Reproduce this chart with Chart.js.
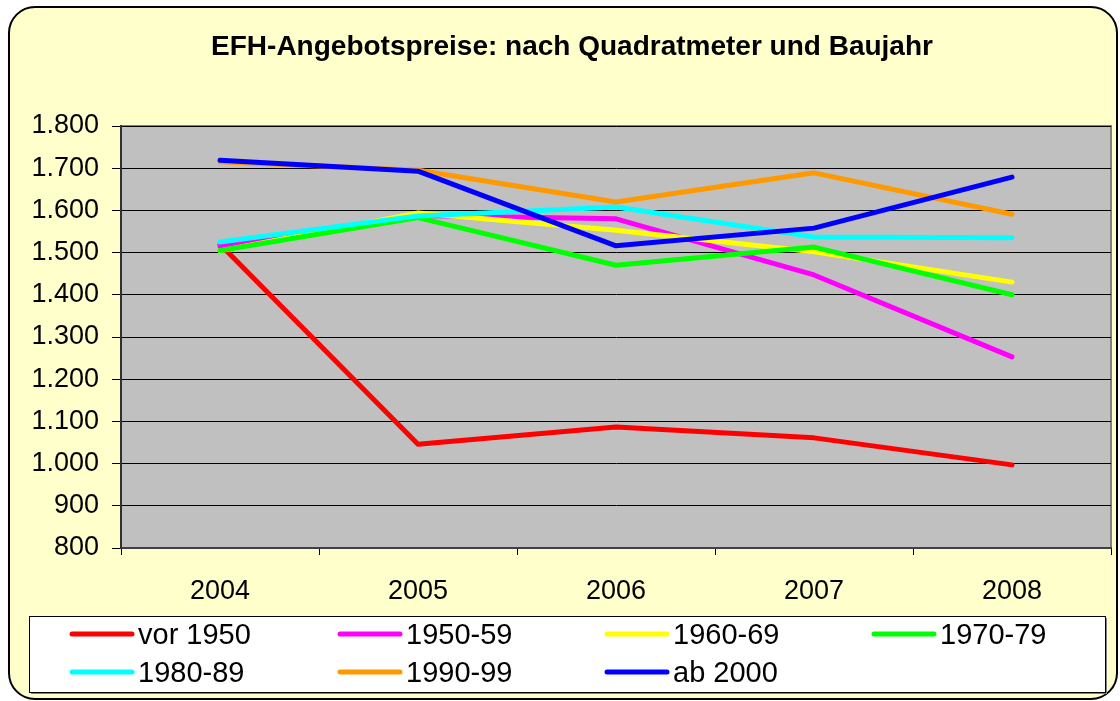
<!DOCTYPE html>
<html>
<head>
<meta charset="utf-8">
<script src="https://cdn.jsdelivr.net/npm/chart.js@4.4.1/dist/chart.umd.min.js"></script>
<style>
  html, body { margin: 0; padding: 0; background: #ffffff; }
  #wrap { width: 1120px; height: 701px; position: relative; }
</style>
</head>
<body>
<div id="wrap"><canvas id="chartCanvas" width="1120" height="701"></canvas></div>
<script>
const years = ['2004', '2005', '2006', '2007', '2008'];
const seriesNames = ['vor 1950', '1950-59', '1960-69', '1970-79', '1980-89', '1990-99', 'ab 2000'];
const vor1950 = [1520, 1046, 1087, 1061, 997];
const s1950 = [1515, 1588, 1580, 1447, 1253];
const s1960 = [1504, 1594, 1553, 1502, 1430];
const s1970 = [1505, 1583, 1470, 1513, 1400];
const s1980 = [1525, 1587, 1608, 1537, 1535];
const s1990 = [1715, 1695, 1620, 1689, 1591];
const ab2000 = [1719, 1693, 1516, 1558, 1679];
const seriesColors = ['#ff0000', '#ff00ff', '#ffff00', '#00ff00', '#00ffff', '#ff9900', '#0000ff'];
const yTicks = { min: 800, max: 1800, step: 100 };
const chartTitle = 'EFH-Angebotspreise: nach Quadratmeter und Baujahr';

const FONT = '"Liberation Sans", Arial, sans-serif';
const allValues = [vor1950, s1950, s1960, s1970, s1980, s1990, ab2000];

// thousands with a dot like in the original
function formatDe(v) {
  return String(v).replace(/\B(?=(\d{3})+(?!\d))/g, '.');
}

// card background, title + grey plot area
const backgroundPlugin = {
  id: 'cardBackground',
  beforeDraw(chart) {
    const c = chart.ctx;
    const a = chart.chartArea;
    c.save();
    c.fillStyle = '#ffffff';
    c.fillRect(0, 0, chart.width, chart.height);
    c.beginPath();
    c.roundRect(9, 7, 1108, 692, 26);
    c.fillStyle = '#ffffcc';
    c.fill();
    c.lineWidth = 2;
    c.strokeStyle = '#000000';
    c.stroke();
    c.fillStyle = '#000000';
    c.font = 'bold 28px ' + FONT;
    c.textAlign = 'center';
    c.textBaseline = 'middle';
    c.fillText(chartTitle, 572, 47);
    c.fillStyle = '#c0c0c0';
    c.fillRect(a.left, a.top, a.right - a.left, a.bottom - a.top);
    c.strokeStyle = '#808080';
    c.lineWidth = 2;
    c.beginPath();
    c.moveTo(a.left, a.top);
    c.lineTo(a.right, a.top);
    c.lineTo(a.right, a.bottom);
    c.stroke();
    c.restore();
  }
};

// legend box with fixed columns, like the Excel one
const legendPlugin = {
  id: 'boxLegend',
  afterDraw(chart) {
    const c = chart.ctx;
    const colX = [72, 340, 607, 874];
    const rowY = [634, 672];
    c.save();
    c.fillStyle = '#808080';
    c.fillRect(31, 618, 1076, 76);
    c.fillStyle = '#ffffff';
    c.fillRect(29, 616, 1076, 76);
    c.strokeStyle = '#000000';
    c.lineWidth = 1;
    c.strokeRect(29.5, 616.5, 1076, 76);
    c.font = '29px ' + FONT;
    c.textBaseline = 'middle';
    c.textAlign = 'left';
    chart.data.datasets.forEach((ds, i) => {
      const x = colX[i % 4];
      const y = rowY[Math.floor(i / 4)];
      c.strokeStyle = ds.borderColor;
      c.lineWidth = 5;
      c.lineCap = 'round';
      c.beginPath();
      c.moveTo(x, y);
      c.lineTo(x + 60, y);
      c.stroke();
      c.fillStyle = '#000000';
      c.fillText(ds.label, x + 66, y + 2);
    });
    c.restore();
  }
};

const ctx = document.getElementById('chartCanvas').getContext('2d');
const datasets = seriesNames.map((name, i) => ({
  label: name,
  data: allValues[i],
  borderColor: seriesColors[i],
  backgroundColor: seriesColors[i],
  borderWidth: 5,
  borderCapStyle: 'round',
  borderJoinStyle: 'round',
  pointRadius: 0,
  tension: 0,
  order: seriesNames.length - i
}));

const chart = new Chart(ctx, {
  type: 'line',
  data: { labels: years, datasets: datasets },
  options: {
    responsive: false,
    animation: false,
    layout: { padding: { left: 0, right: 9, top: 126, bottom: 83 } },
    scales: {
      x: {
        offset: true,
        afterFit(scale) { scale.height = 70; },
        grid: {
          offset: true,
          drawOnChartArea: false,
          drawTicks: true,
          tickLength: 7,
          color: '#000000',
          lineWidth: 1
        },
        border: { display: true, color: '#404040', width: 2 },
        ticks: {
          color: '#000000',
          font: { family: FONT, size: 27 },
          padding: 20,
          maxRotation: 0
        }
      },
      y: {
        min: yTicks.min,
        max: yTicks.max,
        afterFit(scale) { scale.width = 121; },
        grid: {
          color: '#000000',
          lineWidth: 1,
          drawTicks: true,
          tickLength: 9
        },
        border: { display: true, color: '#303030', width: 2 },
        ticks: {
          stepSize: yTicks.step,
          color: '#000000',
          font: { family: FONT, size: 27 },
          padding: 13,
          callback: (v) => formatDe(v)
        }
      }
    },
    plugins: {
      legend: { display: false },
      tooltip: { enabled: false },
      title: { display: false }
    }
  },
  plugins: [backgroundPlugin, legendPlugin]
});
</script>
</body>
</html>
